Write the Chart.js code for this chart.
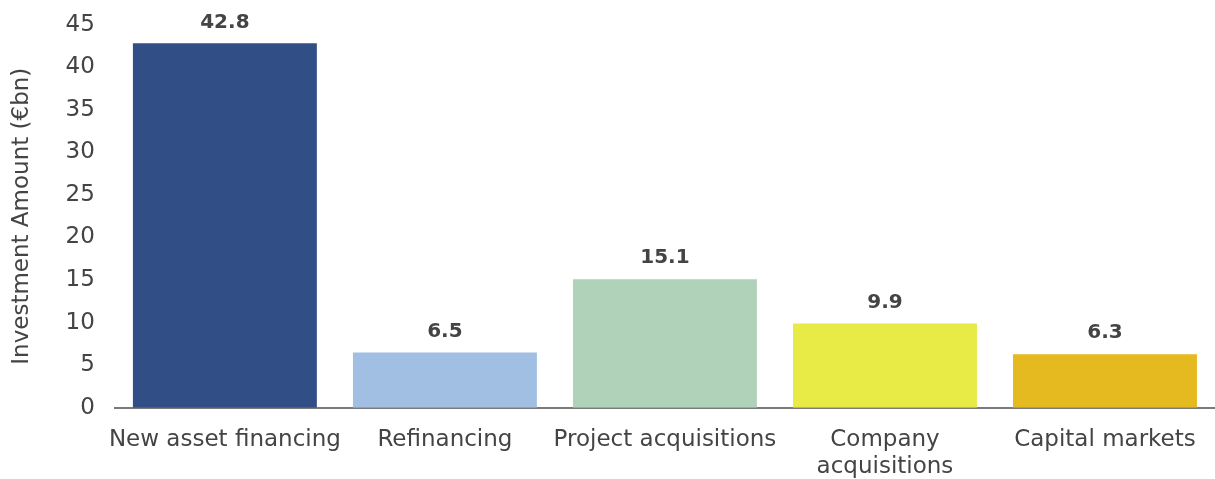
<!DOCTYPE html>
<html>
<head>
<meta charset="utf-8">
<script src="https://cdn.jsdelivr.net/npm/chart.js@4/dist/chart.umd.min.js"></script>
<style>
  html, body { margin: 0; padding: 0; background: #fff; }
  #wrap { width: 1215px; height: 479px; }
</style>
</head>
<body>
<div id="wrap"><canvas id="myChart"></canvas></div>
<script>
const categories = ["New asset financing", "Refinancing", "Project acquisitions", ["Company", "acquisitions"], "Capital markets"];
const amounts = [42.8, 6.5, 15.1, 9.9, 6.3];
const barColors = ["#314F86", "#A0BFE3", "#B0D2B8", "#E8EA45", "#E5B920"];
const yTicks = [0, 5, 10, 15, 20, 25, 30, 35, 40, 45];

const textColor = "#444444";
const fontFamily = "'DejaVu Sans', sans-serif";

// values above each bar
const valueLabels = {
    id: "valueLabels",
    afterDatasetsDraw(chart) {
        const ctx = chart.ctx;
        const meta = chart.getDatasetMeta(0);
        ctx.save();
        ctx.font = "bold 20px " + fontFamily;
        ctx.fillStyle = textColor;
        ctx.textAlign = "center";
        ctx.textBaseline = "bottom";
        meta.data.forEach(function (bar, i) {
            ctx.fillText(amounts[i].toFixed(1), bar.x, bar.y - 11);
        });
        ctx.restore();
    },
};

const chart = new Chart(document.getElementById("myChart"), {
    type: "bar",
    data: {
        labels: categories,
        datasets: [
            {
                data: amounts,
                backgroundColor: barColors,
                categoryPercentage: 1,
                barPercentage: 0.836,
            },
        ],
    },
    options: {
        responsive: true,
        maintainAspectRatio: false,
        animation: false,
        layout: {
            padding: { top: 0, right: 0, left: 8, bottom: -20 },
        },
        scales: {
            x: {
                grid: { display: false, drawTicks: false },
                border: { display: true, color: "#7a7a7a", width: 2 },
                ticks: {
                    color: textColor,
                    font: { family: fontFamily, size: 23, lineHeight: 1.2 },
                    padding: 18,
                    maxRotation: 0,
                    autoSkip: false,
                },
            },
            y: {
                min: 0,
                max: 45,
                afterBuildTicks(axis) {
                    axis.ticks = yTicks.map(function (v) { return { value: v }; });
                },
                grid: { display: false, drawTicks: false },
                border: { display: false },
                ticks: {
                    color: textColor,
                    font: { family: fontFamily, size: 23, lineHeight: 0.4 },
                    padding: 20,
                },
                title: {
                    display: true,
                    text: "Investment Amount (€bn)",
                    color: textColor,
                    font: { family: fontFamily, size: 23 },
                    padding: { top: 0, bottom: 10 },
                },
            },
        },
        plugins: {
            legend: { display: false },
            tooltip: { enabled: false },
        },
    },
    plugins: [valueLabels],
});
</script>
</body>
</html>
